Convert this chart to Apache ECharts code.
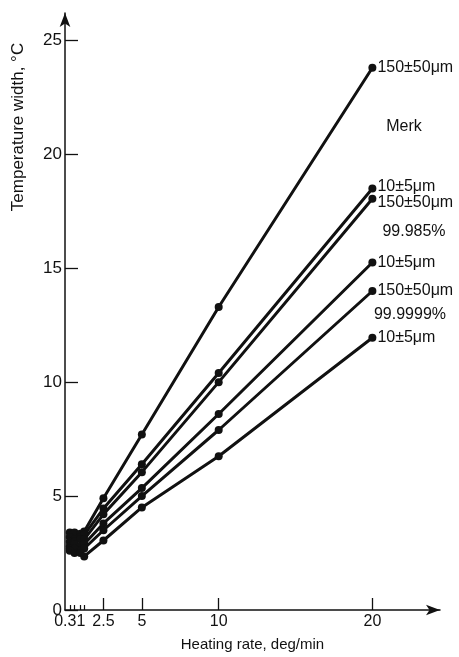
<!DOCTYPE html>
<html>
<head>
<meta charset="utf-8">
<script src="https://cdn.jsdelivr.net/npm/echarts@6/dist/echarts.min.js"></script>
<style>
  html, body { margin: 0; background: #fff; }
  #chart { width: 459px; height: 657px; }
</style>
</head>
<body>
<div id="chart"></div>
<script>
// heating rates, deg/min
let rates = [0.31, 0.62, 1, 1.25, 2.5, 5, 10, 20];

// temperature width, °C
let merk150 = [3.4, 3.4, 3.35, 3.45, 4.9, 7.7, 13.3, 23.8];
let merk10 = [3.2, 3.1, 3.2, 3.3, 4.45, 6.4, 10.4, 18.5];
let pure985_150 = [3.0, 3.0, 3.1, 3.1, 4.2, 6.05, 10.0, 18.05];
let pure985_10 = [2.8, 2.9, 2.8, 2.9, 3.8, 5.35, 8.6, 15.25];
let pure9999_150 = [2.7, 2.7, 2.6, 2.7, 3.5, 5.0, 7.9, 14.0];
let pure9999_10 = [2.6, 2.5, 2.5, 2.35, 3.05, 4.5, 6.75, 11.95];

let seriesValues = [merk150, merk10, pure985_150, pure985_10, pure9999_150, pure9999_10];
let endLabels = ['150±50μm', '10±5μm', '150±50μm', '10±5μm', '150±50μm', '10±5μm'];
let labelShift = [0, -2, 4, 0, 0, 0];

let yTicks = [0, 5, 10, 15, 20, 25];
let xTicks = [2.5, 5, 10, 20];
let xSmallTicks = [0.31, 0.62, 1, 1.25];

let font = '"Liberation Sans", "DejaVu Sans", sans-serif';
let ink = '#111';

function buildSeries(values, idx) {
  let data = values.map(function (v, i) { return [rates[i], v]; });
  let last = data.length - 1;
  data[last] = {
    value: data[last],
    label: {
      show: true, position: 'right', distance: 1,
      offset: [0, labelShift[idx]],
      formatter: endLabels[idx],
      fontFamily: font, fontSize: 16, color: ink
    }
  };
  return {
    type: 'line',
    data: data,
    symbol: 'circle',
    symbolSize: 8,
    lineStyle: { color: ink, width: 3 },
    itemStyle: { color: ink },
    silent: true
  };
}

let chart = echarts.init(document.getElementById('chart'));
chart.setOption({
  animation: false,
  backgroundColor: '#fff',
  grid: { left: 65, right: 19, top: 13, bottom: 44 },
  xAxis: [{
    type: 'value', min: 0, max: 24.4,
    name: 'Heating rate, deg/min', nameLocation: 'middle', nameGap: 27,
    nameTextStyle: { fontFamily: font, fontSize: 15, color: ink },
    axisLine: { lineStyle: { color: ink, width: 1.5 }, symbol: ['none', 'arrow'], symbolSize: [8, 14] },
    axisTick: { inside: true, length: 12, customValues: xTicks, lineStyle: { color: ink, width: 1.3 } },
    axisLabel: { customValues: xTicks, margin: 4, fontFamily: font, fontSize: 16, color: ink },
    splitLine: { show: false }
  }, {
    type: 'value', min: 0, max: 24.4, position: 'bottom',
    axisLine: { show: false },
    axisTick: { inside: true, length: 5, customValues: xSmallTicks, lineStyle: { color: ink, width: 1.2 } },
    axisLabel: { customValues: [0.31], formatter: function () { return '0.31'; }, margin: 4, fontFamily: font, fontSize: 16, color: ink },
    splitLine: { show: false }
  }],
  yAxis: {
    type: 'value', min: 0, max: 26.2,
    axisLine: { lineStyle: { color: ink, width: 1.5 }, symbol: ['none', 'arrow'], symbolSize: [8, 14] },
    axisTick: { inside: true, length: 13, customValues: yTicks, lineStyle: { color: ink, width: 1.3 } },
    axisLabel: { customValues: yTicks, margin: 3, fontFamily: font, fontSize: 17, color: ink },
    splitLine: { show: false }
  },
  graphic: [
    { type: 'text', x: 18, y: 127, rotation: Math.PI / 2,
      style: { text: 'Temperature width, °C', align: 'center', verticalAlign: 'middle', font: '17px ' + font, fill: ink } },
    { type: 'text', x: 404, y: 127,
      style: { text: 'Merk', align: 'center', verticalAlign: 'middle', font: '16px ' + font, fill: ink } },
    { type: 'text', x: 414, y: 232,
      style: { text: '99.985%', align: 'center', verticalAlign: 'middle', font: '16px ' + font, fill: ink } },
    { type: 'text', x: 410, y: 315,
      style: { text: '99.9999%', align: 'center', verticalAlign: 'middle', font: '16px ' + font, fill: ink } }
  ],
  series: seriesValues.map(buildSeries)
});
</script>
</body>
</html>
